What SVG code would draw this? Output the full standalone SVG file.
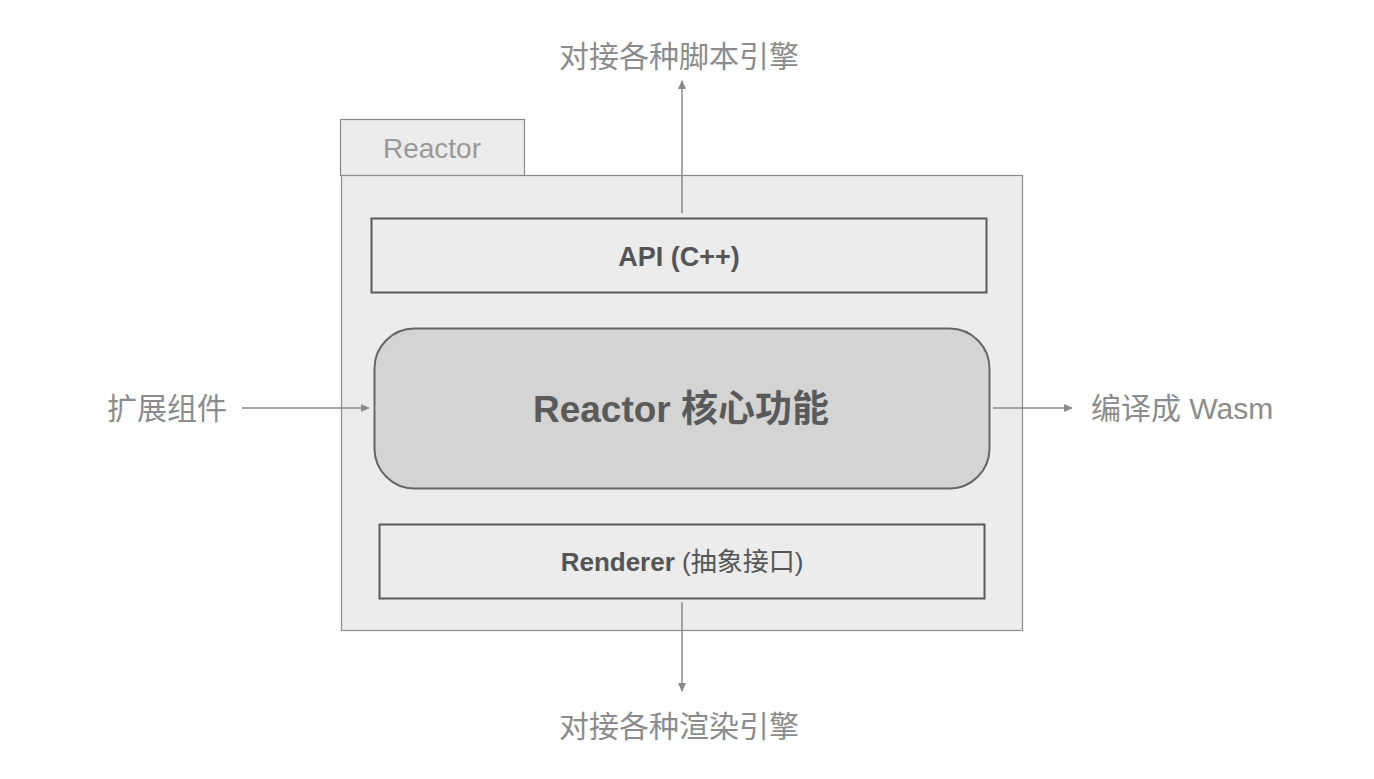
<svg xmlns="http://www.w3.org/2000/svg" width="1374" height="779" viewBox="0 0 1374 779">
<defs>
<style>
.t{font-family:"Helvetica Neue","Liberation Sans","Noto Sans CJK SC",sans-serif}
.lbl{font-size:30px;fill:#8c8c8c}
.box{fill:#ececec;stroke:#5a5a5a;stroke-width:2}
.edge{stroke:#8a8a8a;stroke-width:1.5;fill:none}
</style>
<marker id="ah" viewBox="0 0 10 10" refX="9" refY="5" markerWidth="9" markerHeight="9" markerUnits="userSpaceOnUse" orient="auto">
<path d="M0,0.5 L10,5 L0,9.5 z" fill="#8a8a8a"/>
</marker>
</defs>
<rect width="1374" height="779" fill="#ffffff"/>
<g id="reactor">
<rect x="340.5" y="119.5" width="184" height="56" fill="#ececec" stroke="#8a8a8a" stroke-width="1.2"/>
<rect x="341.5" y="175.5" width="681" height="455" fill="#ececec" stroke="#8a8a8a" stroke-width="1.2"/>
<text class="t" x="432" y="158" font-size="28" fill="#999999" text-anchor="middle">Reactor</text>
</g>
<g id="api">
<rect class="box" x="371.5" y="218.5" width="615" height="74"/>
<text class="t" x="679" y="266" font-size="27" font-weight="bold" fill="#555555" text-anchor="middle">API (C++)</text>
</g>
<g id="core">
<rect x="374.5" y="328.5" width="615" height="160" rx="40" ry="40" fill="#d4d4d4" stroke="#666666" stroke-width="2"/>
<text class="t" x="681" y="422" font-size="37" font-weight="bold" fill="#5a5a5a" text-anchor="middle">Reactor 核心功能</text>
</g>
<g id="renderer">
<rect class="box" x="379.5" y="524.5" width="605" height="74"/>
<text class="t" x="682" y="571" font-size="26" fill="#555555" text-anchor="middle"><tspan font-weight="bold">Renderer</tspan> (抽象接口)</text>
</g>
<g id="labels">
<text class="t lbl" x="679" y="67" text-anchor="middle">对接各种脚本引擎</text>
<text class="t lbl" x="679" y="737" text-anchor="middle">对接各种渲染引擎</text>
<text class="t lbl" x="167" y="419" text-anchor="middle">扩展组件</text>
<text class="t lbl" x="1091" y="419">编译成 Wasm</text>
</g>
<g id="connectors">
<line class="edge" x1="682" y1="213" x2="682" y2="81" marker-end="url(#ah)"/>
<line class="edge" x1="682" y1="602" x2="682" y2="691" marker-end="url(#ah)"/>
<line class="edge" x1="242" y1="408" x2="369" y2="408" marker-end="url(#ah)"/>
<line class="edge" x1="993" y1="408" x2="1072" y2="408" marker-end="url(#ah)"/>
</g>
</svg>
